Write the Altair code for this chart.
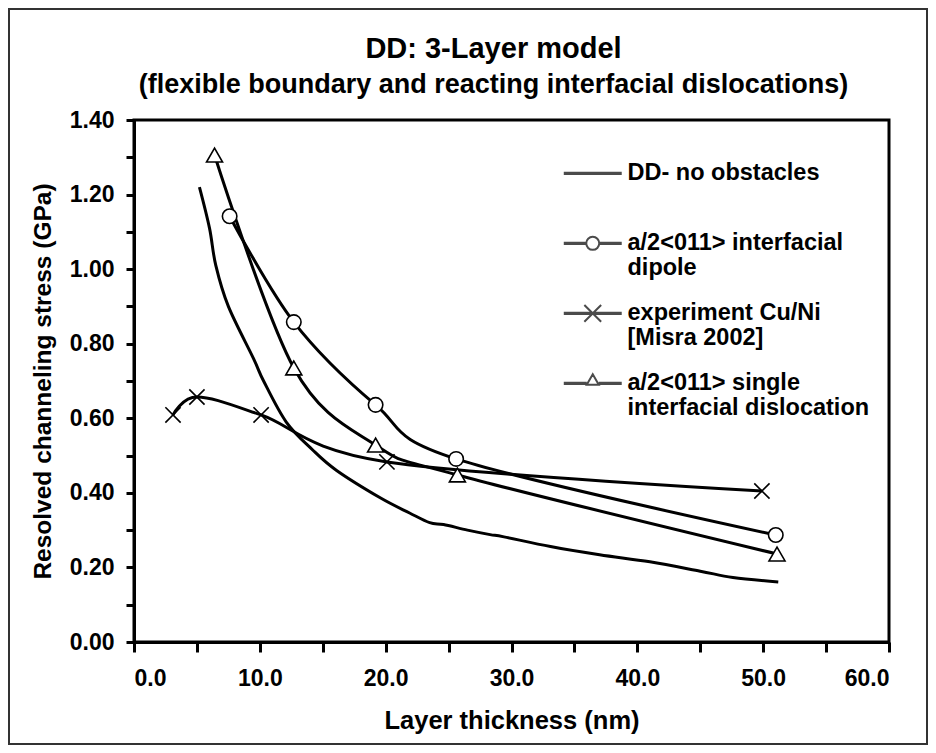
import altair as alt
import pandas as pd

FONT = "Liberation Sans"

# ---- data ----
dd_x = [5.2, 6.0, 6.5, 7.5, 9.5, 10.3, 12.1, 14.2, 16.1, 19.6, 21.9, 23.5, 24.6,
        26.5, 28.3, 29.4, 33.1, 37.0, 41.0, 45.0, 47.6, 51.2]
dd_y = [1.22, 1.11, 1.01, 0.90, 0.76, 0.70, 0.59, 0.515, 0.46, 0.386, 0.346, 0.32,
        0.315, 0.30, 0.288, 0.282, 0.256, 0.234, 0.215, 0.19, 0.173, 0.161]

dip_x = [7.6, 12.7, 19.2, 25.6, 51.0]
dip_y = [1.142, 0.858, 0.636, 0.491, 0.287]

exp_x = [3.1, 5.0, 10.1, 20.1, 49.9]
exp_y = [0.609, 0.657, 0.609, 0.483, 0.405]

sgl_x = [6.4, 12.7, 19.2, 25.7, 51.1]
sgl_y = [1.306, 0.735, 0.528, 0.448, 0.236]

names = [
    "DD- no obstacles",
    "a/2<011> interfacial|dipole",
    "experiment Cu/Ni|[Misra 2002]",
    "a/2<011> single|interfacial dislocation",
]

x_ticks = list(range(0, 61, 5))
y_ticks = [i / 10 for i in range(15)]

# ---- tables ----
rows = []
for nm, xs, ys in zip(names, [dd_x, dip_x, exp_x, sgl_x], [dd_y, dip_y, exp_y, sgl_y]):
    for a, b in zip(xs, ys):
        rows.append({"series": nm, "x": a, "y": b})
df = pd.DataFrame(rows)
mk = df[df["series"] != names[0]]
lg = df.groupby("series", as_index=False).first()

X_PATH = "M-1,-1L1,1M-1,1L1,-1"

# legend glyphs: a thick line (drawn twice, slightly offset) with the marker in the middle
yo = 1.8
L = 4.14
a, b = yo - 0.08, yo + 0.08


def seg(x0, x1):
    return f"M{x0},{a}L{x1},{a}M{x0},{b}L{x1},{b}"


legend_paths = [
    seg(-L, L),
    seg(-L, -0.93) + seg(0.93, L)
    + f"M-0.93,{yo}A0.93,0.93 0 1,0 0.93,{yo}A0.93,0.93 0 1,0 -0.93,{yo}",
    seg(-L, L) + f"M-1.2,{yo-1.2}L1.2,{yo+1.2}M-1.2,{yo+1.2}L1.2,{yo-1.2}",
    seg(-L, -0.86) + seg(0.86, L) + f"M-0.86,{yo+0.2}L0,{yo-1.3}L0.86,{yo+0.2}Z",
]

x_enc = alt.X(
    "x:Q",
    scale=alt.Scale(domain=[0, 60], nice=False),
    axis=alt.Axis(
        values=x_ticks,
        labelExpr="datum.value % 10 == 0 ? format(datum.value, '.1f') : ''",
        title="Layer thickness (nm)",
        tickSize=10,
        labelPadding=15,
        titlePadding=18,
        titleFontSize=25.5,
    ),
)
y_enc = alt.Y(
    "y:Q",
    scale=alt.Scale(domain=[0, 1.4], nice=False),
    axis=alt.Axis(
        values=y_ticks,
        labelExpr="round(datum.value * 10) % 2 == 0 ? format(datum.value, '.2f') : ''",
        title="Resolved channeling stress (GPa)",
        tickSize=8,
        labelPadding=12,
        titlePadding=14,
        titleFontSize=24.5,
    ),
)

lines = alt.Chart(df).mark_line(
    interpolate="cardinal", color="black", strokeWidth=3
).encode(x=x_enc, y=y_enc, detail="series:N")

points = alt.Chart(mk).mark_point(
    filled=True, fill="white", stroke="black", strokeWidth=1.6, opacity=1
).encode(
    x=x_enc,
    y=y_enc,
    shape=alt.Shape(
        "series:N",
        scale=alt.Scale(domain=names[1:], range=["circle", X_PATH, "triangle-up"]),
        legend=None,
    ),
    size=alt.Size(
        "series:N",
        scale=alt.Scale(domain=names[1:], range=[210, 256, 160]),
        legend=None,
    ),
)

legend_layer = alt.Chart(lg).mark_point(
    filled=False, color="black", strokeWidth=2
).encode(
    x=x_enc,
    y=y_enc,
    size=alt.value(0),
    shape=alt.Shape(
        "series:N",
        title=None,
        scale=alt.Scale(domain=names, range=legend_paths),
        legend=alt.Legend(
            orient="none",
            legendX=447,
            legendY=29,
            padding=0,
            title=None,
            symbolSize=196,
            symbolStrokeWidth=2,
            labelFont=FONT,
            labelFontSize=23.5,
            labelFontWeight="bold",
            labelColor="black",
            labelBaseline="top",
            labelOffset=23,
            labelLimit=600,
            labelExpr="split(datum.label, '|')",
            gridAlign="all",
            rowPadding=9,
        ),
    ),
)

frame = alt.Chart(alt.Data(values=[{"f": 1}])).mark_rect(
    fillOpacity=0, stroke="#333333", strokeWidth=2
).encode(
    x=alt.value(-125), x2=alt.value(793), y=alt.value(-111), y2=alt.value(624)
)

chart = (
    alt.layer(frame, lines, points, legend_layer)
    .resolve_scale(shape="independent", size="independent")
    .properties(
        width=755,
        height=522,
        background="white",
        autosize=alt.AutoSizeParams(type="none"),
        padding={"left": 126, "top": 112, "right": 39, "bottom": 103},
        title=alt.TitleParams(
            text="DD: 3-Layer model",
            subtitle="(flexible boundary and reacting interfacial dislocations)",
            anchor="middle",
            frame="group",
            dx=-18,
            dy=90,
            offset=0,
            font=FONT,
            fontSize=29,
            fontWeight="bold",
            color="black",
            subtitleFont=FONT,
            subtitleFontSize=27,
            subtitleFontWeight="bold",
            subtitleColor="black",
            subtitlePadding=8,
        ),
    )
    .configure_view(stroke="black", strokeWidth=3)
    .configure_axis(
        grid=False,
        domainColor="black",
        domainWidth=3,
        tickColor="black",
        tickWidth=3,
        labelFont=FONT,
        labelFontSize=23,
        labelFontWeight="bold",
        labelColor="black",
        titleFont=FONT,
        titleFontWeight="bold",
        titleColor="black",
    )
)

chart.save("out.html", embed_options={"renderer": "svg", "actions": False})
